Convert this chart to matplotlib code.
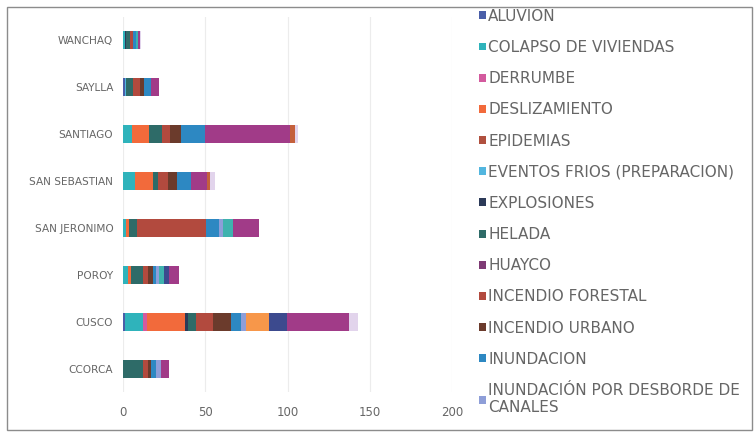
import numpy as np
import matplotlib
matplotlib.use("Agg")
import matplotlib.pyplot as plt
from matplotlib.patches import Rectangle, Patch

# distritos (de abajo hacia arriba)
districts = ["CCORCA", "CUSCO", "POROY", "SAN JERONIMO",
             "SAN SEBASTIAN", "SANTIAGO", "SAYLLA", "WANCHAQ"]

# series visibles en la leyenda
aluvion       = [0, 1, 0, 0, 0, 0, 1, 0]
colapso       = [0, 11, 3, 1.5, 7, 5.5, 0, 1]
derrumbe      = [0, 2.5, 0, 0, 0, 0, 0, 0]
deslizamiento = [0, 23, 2, 2, 11, 10, 0, 0]
epidemias     = [0, 0, 0, 0, 0, 0, 0, 0]
eventos_frios = [0, 0, 0, 0, 0, 0, 1, 0]
explosiones   = [0, 2, 0, 0, 0, 0, 0, 1]
helada        = [12, 5, 7, 5, 3, 8, 4, 2]
huayco        = [0, 0, 0, 0, 0, 0, 0, 0]
inc_forestal  = [3, 10, 3, 42, 6, 5, 4, 2]
inc_urbano    = [2, 11, 3, 0, 6, 7, 3, 0]
inundacion    = [3, 6, 2, 8, 8, 14, 4, 2]
desborde      = [3, 3, 2, 2, 0, 0, 0, 0]
# series que no caben en la leyenda del original
otro_1 = [0, 14, 0, 0, 0, 0, 0, 0]
otro_2 = [0, 0, 3, 6, 0, 0, 0, 1]
otro_3 = [0, 11, 3, 0, 0, 0, 0, 0]
otro_4 = [5, 38, 6, 16, 10, 52, 5, 1]
otro_5 = [0, 0, 0, 0, 2, 3, 0, 0]
otro_6 = [0, 5, 0, 0, 3, 2, 0, 1]

series = [
    ("ALUVION", aluvion, "#4a5ea8"),
    ("COLAPSO DE VIVIENDAS", colapso, "#2fb3bb"),
    ("DERRUMBE", derrumbe, "#d35a9e"),
    ("DESLIZAMIENTO", deslizamiento, "#f26a3b"),
    ("EPIDEMIAS", epidemias, "#b0503e"),
    ("EVENTOS FRIOS (PREPARACION)", eventos_frios, "#52b6df"),
    ("EXPLOSIONES", explosiones, "#2c3a58"),
    ("HELADA", helada, "#2e6b68"),
    ("HUAYCO", huayco, "#7e3a74"),
    ("INCENDIO FORESTAL", inc_forestal, "#b24a3e"),
    ("INCENDIO URBANO", inc_urbano, "#6b3b2c"),
    ("INUNDACION", inundacion, "#2d88c2"),
    ("INUNDACIÓN POR DESBORDE DE\nCANALES", desborde, "#8e9ed8"),
    ("_otro 1", otro_1, "#f7974a"),
    ("_otro 2", otro_2, "#3fb2ae"),
    ("_otro 3", otro_3, "#3c4a8e"),
    ("_otro 4", otro_4, "#a13b88"),
    ("_otro 5", otro_5, "#c4603c"),
    ("_otro 6", otro_6, "#e2d4ec"),
]

fig = plt.figure(figsize=(7.55, 4.38), dpi=100)
fig.patch.set_facecolor("white")

# borde exterior del gráfico
fig.patches.append(Rectangle((0.009, 0.018), 0.987, 0.966, transform=fig.transFigure,
                             fill=False, edgecolor="#8c8c8c", linewidth=1.0))

ax = fig.add_axes([0.163, 0.104, 0.436, 0.858])

y = np.arange(len(districts))
left = np.zeros(len(districts))
handles = []
for name, vals, col in series:
    vals = np.array(vals, dtype=float)
    ax.barh(y, vals, left=left, height=0.38, color=col, linewidth=0)
    left += vals
    if not name.startswith("_"):
        handles.append(Patch(facecolor=col, label=name))

ax.set_xlim(0, 200)
ax.set_ylim(-0.5, len(districts) - 0.5)
ax.set_xticks([0, 50, 100, 150, 200])
ax.set_yticks(y)
ax.set_yticklabels(districts, fontsize=7.6, color="#666666", family="DejaVu Sans")
for lab in ax.get_xticklabels():
    lab.set_fontsize(8.5)
    lab.set_color("#666666")
    lab.set_family("DejaVu Sans")
ax.tick_params(length=0, pad=7)
ax.tick_params(axis="x", pad=10)
ax.grid(axis="x", color="#ececec", linewidth=0.8)
ax.set_axisbelow(True)
for s in ax.spines.values():
    s.set_visible(False)

fig.legend(handles=handles, loc="upper left", bbox_to_anchor=(0.627, 0.994),
           frameon=False, prop={"family": "DejaVu Sans", "size": 11.0},
           labelcolor="#666666", handlelength=0.42, handleheight=0.42,
           handletextpad=0.15, labelspacing=1.06, borderaxespad=0)

fig.savefig("out.png", dpi=100)
